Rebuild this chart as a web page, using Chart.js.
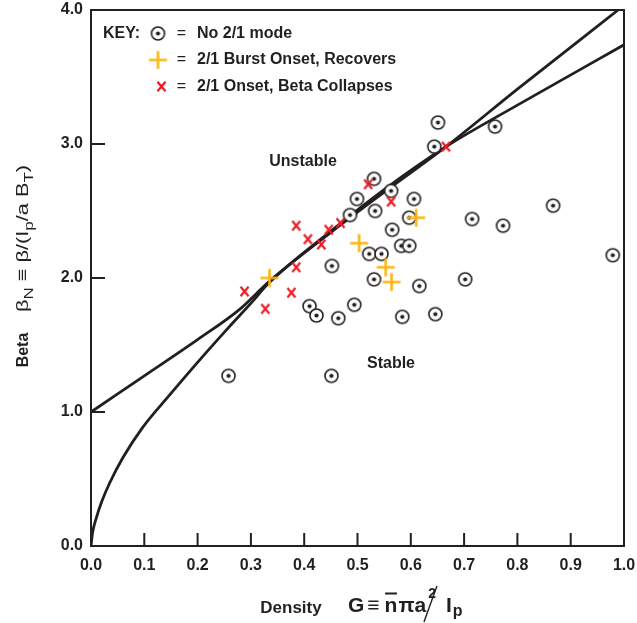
<!DOCTYPE html>
<html>
<head>
<meta charset="utf-8">
<script src="https://cdn.jsdelivr.net/npm/chart.js@4/dist/chart.umd.min.js"></script>
<style>
  body { margin: 0; background: #fff; }
  canvas { display: block; }
</style>
</head>
<body>
<canvas id="betaLimit" width="637" height="623"></canvas>
<script>
const ink = '#231f20';
const family = '"Liberation Sans", Arial, sans-serif';

// shots with no 2/1 mode
const noModeG = [0.258, 0.451, 0.410, 0.423, 0.464, 0.494, 0.452, 0.486, 0.499, 0.531, 0.533,
                 0.522, 0.545, 0.531, 0.563, 0.565, 0.582, 0.597, 0.606, 0.597, 0.616, 0.584,
                 0.646, 0.651, 0.644, 0.758, 0.715, 0.773, 0.702, 0.867, 0.979];
const noModeBeta = [1.27, 1.27, 1.79, 1.72, 1.70, 1.80, 2.09, 2.47, 2.59, 2.74, 2.50,
                    2.18, 2.18, 1.99, 2.65, 2.36, 2.24, 2.24, 2.59, 2.45, 1.94, 1.71,
                    1.73, 3.16, 2.98, 3.13, 2.44, 2.39, 1.99, 2.54, 2.17];

// 2/1 burst onset, recovers
const burstG = [0.335, 0.503, 0.553, 0.564, 0.610];
const burstBeta = [2.00, 2.26, 2.08, 1.97, 2.45];

// 2/1 onset, beta collapses
const collapseG = [0.666, 0.520, 0.563, 0.385, 0.468, 0.446, 0.407, 0.432, 0.385, 0.288, 0.376, 0.327];
const collapseBeta = [2.98, 2.70, 2.57, 2.39, 2.41, 2.36, 2.29, 2.25, 2.08, 1.90, 1.89, 1.77];

// stability boundaries
const upperG = [0, 0.10, 0.20, 0.28, 0.333, 0.45, 0.55, 0.666, 0.80, 0.989];
const upperBeta = [1.00, 1.27, 1.54, 1.77, 1.97, 2.34, 2.64, 2.98, 3.41, 4.00];
const lowerG = [0, 0.003, 0.010, 0.020, 0.035, 0.060, 0.096, 0.146, 0.202, 0.258, 0.302, 0.333, 0.45, 0.55, 0.666, 0.80, 1.0];
const lowerBeta = [0, 0.10, 0.21, 0.33, 0.47, 0.66, 0.88, 1.12, 1.38, 1.63, 1.82, 1.96, 2.35, 2.66, 2.98, 3.29, 3.74];

// axis ticks
const densityTicks = [0, 0.1, 0.2, 0.3, 0.4, 0.5, 0.6, 0.7, 0.8, 0.9, 1.0];
const betaTicks = [0, 1, 2, 3, 4];

const toPoints = (xs, ys) => xs.map((x, i) => ({ x, y: ys[i] }));

function makeMarker(size, draw) {
  const c = document.createElement('canvas');
  c.width = size;
  c.height = size;
  const g = c.getContext('2d');
  g.translate(size / 2, size / 2);
  draw(g);
  return c;
}

const circleDot = makeMarker(17, g => {
  g.beginPath();
  g.arc(0, 0, 6.5, 0, Math.PI * 2);
  g.fillStyle = '#fff';
  g.fill();
  g.lineWidth = 1.6;
  g.strokeStyle = ink;
  g.stroke();
  g.beginPath();
  g.arc(0, 0, 2.1, 0, Math.PI * 2);
  g.fillStyle = ink;
  g.fill();
});

const yellowPlus = makeMarker(21, g => {
  g.strokeStyle = '#fdb515';
  g.lineWidth = 2.6;
  g.beginPath();
  g.moveTo(-9, 0); g.lineTo(9, 0);
  g.moveTo(0, -9); g.lineTo(0, 9);
  g.stroke();
});

const redX = makeMarker(13, g => {
  g.strokeStyle = '#ed1c24';
  g.lineWidth = 2.2;
  g.beginPath();
  g.moveTo(-4, -4.7); g.lineTo(4, 4.7);
  g.moveTo(4, -4.7); g.lineTo(-4, 4.7);
  g.stroke();
});

// text runs with sub/superscripts; returns the end x
function drawRuns(ctx, runs, x, y, size, weight, draw = true) {
  for (const [text, kind] of runs) {
    const s = kind ? size * 0.78 : size;
    ctx.font = `${weight} ${s}px ${family}`;
    const dy = kind === 'sub' ? size * 0.28 : kind === 'sup' ? -size * 0.42 : 0;
    if (draw) ctx.fillText(text, x, y + dy);
    x += ctx.measureText(text).width;
  }
  return x;
}

const betaNRuns = [['β', ''], ['N', 'sub'], [' ≡ β/(I', ''], ['p', 'sub'], ['/a B', ''], ['T', 'sub'], [')', '']];

const decorations = {
  id: 'decorations',
  afterDraw(chart) {
    const { ctx, chartArea: a, scales } = chart;
    ctx.save();
    ctx.strokeStyle = ink;
    ctx.fillStyle = ink;

    // frame and inward ticks
    ctx.lineWidth = 2;
    ctx.strokeRect(a.left, a.top, a.right - a.left, a.bottom - a.top);
    ctx.beginPath();
    for (const v of densityTicks) {
      const px = scales.x.getPixelForValue(v);
      ctx.moveTo(px, a.bottom);
      ctx.lineTo(px, a.bottom - 13);
    }
    for (const v of betaTicks) {
      const py = scales.y.getPixelForValue(v);
      ctx.moveTo(a.left, py);
      ctx.lineTo(a.left + 14, py);
    }
    ctx.stroke();

    // key
    ctx.textBaseline = 'middle';
    ctx.font = `bold 16px ${family}`;
    ctx.fillText('KEY:', 103, 33.5);
    const rows = [
      [circleDot, 158, 33.5, 'No 2/1 mode'],
      [yellowPlus, 158, 60, '2/1 Burst Onset, Recovers'],
      [redX, 161.5, 86.5, '2/1 Onset, Beta Collapses'],
    ];
    for (const [img, cx, cy, label] of rows) {
      ctx.drawImage(img, cx - img.width / 2, cy - img.height / 2);
      ctx.font = `16px ${family}`;
      ctx.textAlign = 'center';
      ctx.fillText('=', 181.5, cy);
      ctx.font = `bold 16px ${family}`;
      ctx.textAlign = 'left';
      ctx.fillText(label, 197, cy);
    }

    // region labels
    ctx.textAlign = 'center';
    ctx.fillText('Unstable', 303, 161.5);
    ctx.fillText('Stable', 391, 363.5);

    // y-axis title
    ctx.textBaseline = 'alphabetic';
    ctx.save();
    ctx.translate(28, 350);
    ctx.rotate(-Math.PI / 2);
    ctx.font = `bold 16px ${family}`;
    ctx.fillText('Beta', 0, 0);
    ctx.restore();
    ctx.save();
    ctx.translate(28, 312);
    ctx.rotate(-Math.PI / 2);
    ctx.textAlign = 'left';
    const span = drawRuns(ctx, betaNRuns, 0, 0, 17, 'normal', false);
    ctx.scale(147 / span, 1);
    drawRuns(ctx, betaNRuns, 0, 0, 17, 'normal');
    ctx.restore();

    // x-axis title
    ctx.font = `bold 17px ${family}`;
    ctx.fillText('Density', 291, 613);
    ctx.textAlign = 'left';
    let x = 348;
    const put = (text, size, y, gap = 0) => {
      ctx.font = `bold ${size}px ${family}`;
      ctx.fillText(text, x, y);
      const w = ctx.measureText(text).width;
      x += w + gap;
      return w;
    };
    put('G', 21, 612, 3);
    put('≡', 21, 612, 5);
    const nx = x;
    const nw = put('n', 21, 612, 1);
    ctx.lineWidth = 2;
    ctx.beginPath();
    ctx.moveTo(nx + 0.5, 593.5);
    ctx.lineTo(nx + nw - 0.5, 593.5);
    ctx.stroke();
    put('π', 21, 612, 0);
    put('a', 21, 612, 2);
    put('2', 14, 598, 0);
    const slashX = x;
    ctx.lineWidth = 1.4;
    ctx.beginPath();
    ctx.moveTo(slashX + 1, 586);
    ctx.lineTo(slashX - 12, 622);
    ctx.stroke();
    x += 10;
    put('I', 21, 612, 1);
    put('p', 16, 616, 0);
    ctx.restore();
  }
};

const tickFont = { family, size: 16, weight: 'bold' };

new Chart(document.getElementById('betaLimit'), {
  type: 'scatter',
  data: {
    datasets: [
      { label: '2/1 Onset, Beta Collapses', data: toPoints(collapseG, collapseBeta), pointStyle: redX },
      { label: '2/1 Burst Onset, Recovers', data: toPoints(burstG, burstBeta), pointStyle: yellowPlus },
      { label: 'No 2/1 mode', data: toPoints(noModeG, noModeBeta), pointStyle: circleDot },
      {
        label: 'Upper boundary', data: toPoints(upperG, upperBeta), showLine: true,
        borderColor: ink, borderWidth: 2.8, pointRadius: 0, cubicInterpolationMode: 'monotone'
      },
      {
        label: 'Lower boundary', data: toPoints(lowerG, lowerBeta), showLine: true,
        borderColor: ink, borderWidth: 2.8, pointRadius: 0, cubicInterpolationMode: 'monotone'
      },
    ],
  },
  options: {
    responsive: false,
    animation: false,
    events: [],
    layout: { padding: { top: 10, right: 13, left: 0, bottom: 0 } },
    plugins: { legend: { display: false }, tooltip: { enabled: false } },
    scales: {
      x: {
        type: 'linear', min: 0, max: 1,
        afterBuildTicks: s => { s.ticks = densityTicks.map(value => ({ value })); },
        afterFit: s => { s.height = 77; s.paddingLeft = 0; s.paddingRight = 0; },
        grid: { display: false, drawTicks: false },
        border: { display: false },
        ticks: { padding: 10, color: ink, font: tickFont, maxRotation: 0, autoSkip: false,
                 callback: v => v.toFixed(1) },
      },
      y: {
        type: 'linear', min: 0, max: 4,
        afterBuildTicks: s => { s.ticks = betaTicks.map(value => ({ value })); },
        afterFit: s => { s.width = 91; s.paddingTop = 0; s.paddingBottom = 0; },
        grid: { display: false, drawTicks: false },
        border: { display: false },
        ticks: { padding: 8, color: ink, font: tickFont, callback: v => v.toFixed(1) },
      },
    },
  },
  plugins: [decorations],
});
</script>
</body>
</html>
